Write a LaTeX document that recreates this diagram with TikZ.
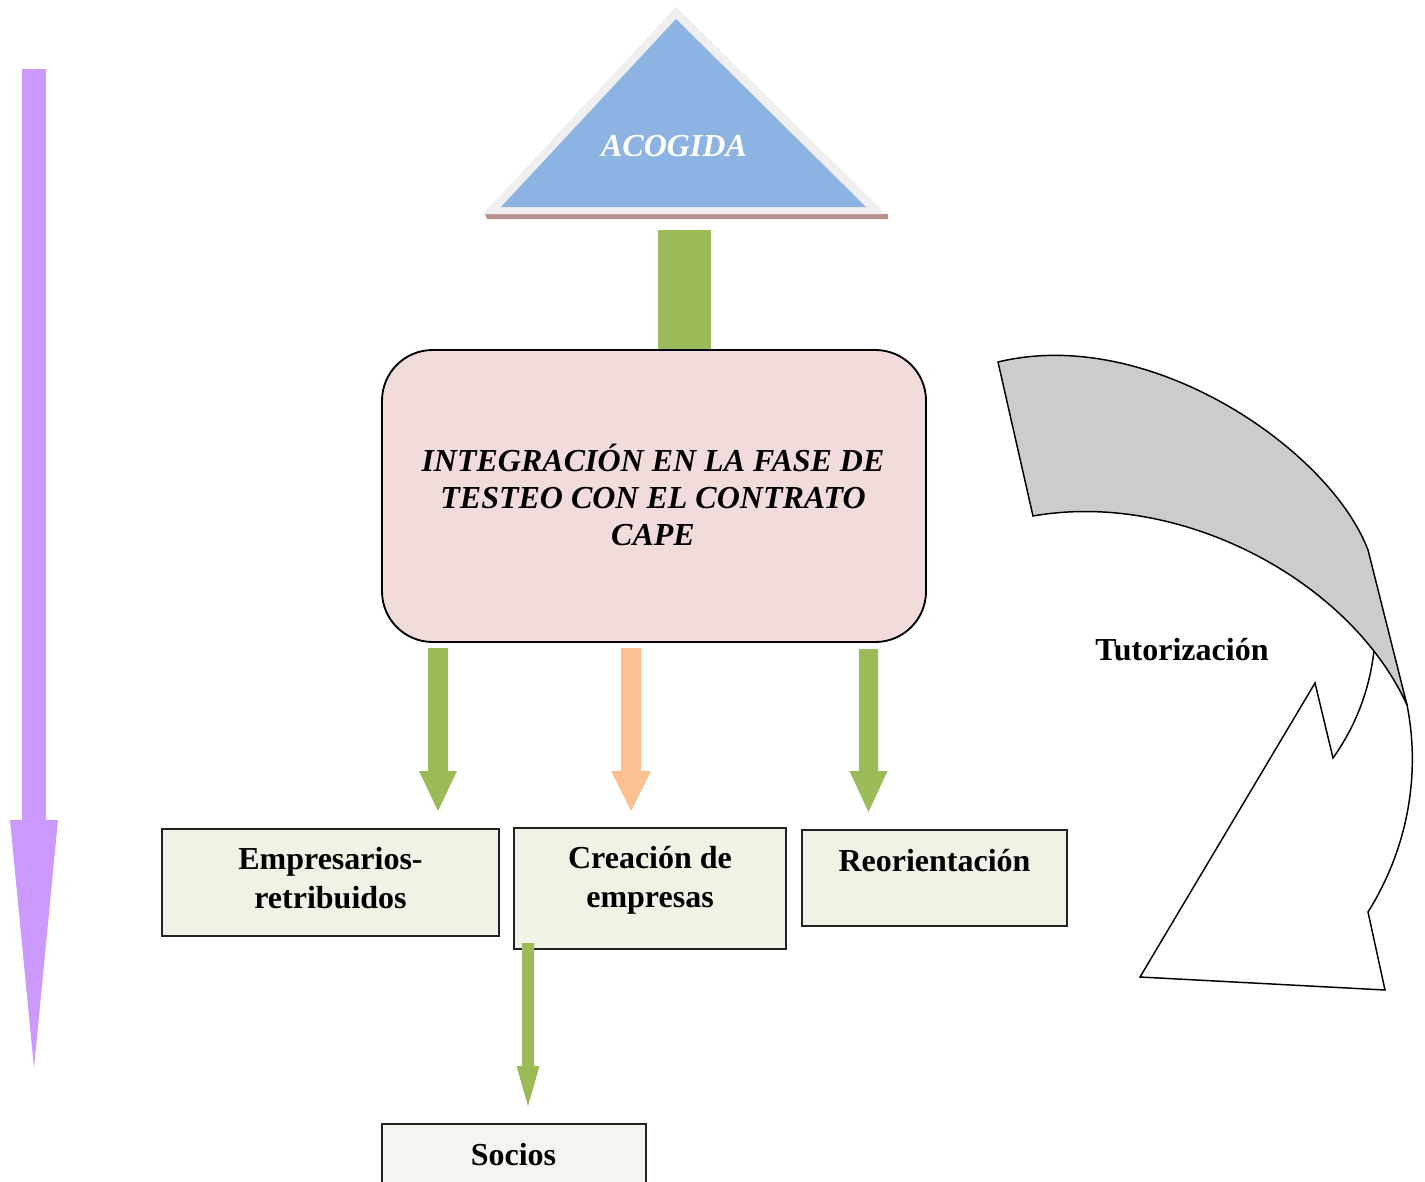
\documentclass[tikz,border=0pt]{standalone}
\usepackage{fontspec}
\setmainfont{Liberation Serif}
\usetikzlibrary{calc,fit}
\definecolor{cpurple}{HTML}{CC99FF}
\definecolor{cgreen}{HTML}{9BBB59}
\definecolor{corange}{HTML}{FAC08F}
\definecolor{cpink}{HTML}{F2DCDB}
\definecolor{cbox}{HTML}{EFF3E6}
\definecolor{cbox2}{HTML}{F3F6EE}
\definecolor{cblue}{HTML}{8DB3E2}
\definecolor{ctriout}{HTML}{EFEFEF}
\definecolor{cshadow}{HTML}{B8918E}
\definecolor{cgray}{HTML}{CCCCCC}
\definecolor{cborder}{HTML}{222222}
% block arrow: #1 colour, #2 start, #3 end (tip), #4 half shaft, #5 half head, #6 head length (px)
\newcommand\blockarrow[6]{%
  \fill[#1] let \p1=(#2), \p2=(#3) in
    (\x1-#4*0.75pt,\y1) -- (\x1+#4*0.75pt,\y1)
    -- (\x2+#4*0.75pt,\y2+#6*0.75pt) -- (\x2+#5*0.75pt,\y2+#6*0.75pt)
    -- (\x2,\y2)
    -- (\x2-#5*0.75pt,\y2+#6*0.75pt) -- (\x2-#4*0.75pt,\y2+#6*0.75pt) -- cycle;}
\begin{document}
\begin{tikzpicture}[x=0.75pt,y=-0.75pt,
  bigfont/.style={font=\fontsize{24}{27.75}\selectfont\bfseries},
  mainbox/.style={draw=black, line width=1.4pt, fill=cpink, rounded corners=38pt, inner sep=0pt},
  obox/.style={draw=cborder, line width=0.9pt, fill=cbox, inner sep=0pt},
  lbl/.style={align=center, inner sep=0pt, font=\fontsize{24}{29.25}\selectfont\bfseries},
  curvedge/.style={draw=black, line width=1.1pt, line join=miter}
]
\clip (0,0) rectangle (1425,1182);
\fill[white] (0,0) rectangle (1425,1182);

% purple arrow
\coordinate (ps) at (34,69);
\coordinate (pe) at (34,1068);
\blockarrow{cpurple}{ps}{pe}{12}{24}{248}

% triangle ACOGIDA
\fill[cshadow] (485,214) -- (888,214) -- (888,219) -- (487,219) -- cycle;
\fill[ctriout] (483,214) -- (676,7) -- (886,214) -- cycle;
\fill[cblue] (501,207) -- (676,19) -- (866,207) -- cycle;
\node[font=\fontsize{24}{27.75}\selectfont\bfseries\itshape, text=white, anchor=base, inner sep=0pt] (acog) at (674,156) {ACOGIDA};

% green bar from triangle to main box
\coordinate (bt) at (684.5,230);
\coordinate (bb) at (684.5,351);
\draw[cgreen, line width=39.75pt] (bt) -- (bb);

% main box
\node[mainbox, fit={(382,350) (926,642)}] (main) {};
\node[font=\fontsize{24}{27.75}\selectfont\bfseries\itshape, align=center, inner sep=0pt] (maintxt) at (653,495) {INTEGRACIÓN EN LA FASE DE\\TESTEO CON EL CONTRATO\\CAPE};

% lower boxes
\node[obox, fit={(162,829) (499,936)}] (emp) {};
\node[obox, fit={(514,828) (786,949)}] (cre) {};
\node[obox, fit={(802,830) (1067,926)}] (reo) {};
\node[obox, fill=cbox2, fit={(382,1124) (646,1200)}] (soc) {};

\node[lbl] (emptxt) at (330.5,878) {Empresarios-\\retribuidos};
\node[lbl] (cretxt) at (650,880) {Creación de\\empresas};
\node[lbl, anchor=base] (reotxt) at (934.5,871) {Reorientación};
\node[lbl, anchor=base] (soctxt) at (513.5,1165) {Socios};

% arrows from main box
\coordinate (a1s) at (438,648);
\coordinate (a1e) at (438,811);
\coordinate (a2s) at (631,648);
\coordinate (a2e) at (631,811);
\coordinate (a3s) at (868.5,649);
\coordinate (a3e) at (868.5,812);
\blockarrow{cgreen}{a1s}{a1e}{10}{19}{40}
\blockarrow{corange}{a2s}{a2e}{10}{20}{40}
\blockarrow{cgreen}{a3s}{a3e}{9.5}{19}{41}

% arrow Creacion -> Socios
\coordinate (a4s) at (528,943);
\coordinate (a4e) at (528,1106);
\blockarrow{cgreen}{a4s}{a4e}{6}{11.5}{40}

% curved arrow (Tutorizacion)
\filldraw[curvedge, fill=white]
  (1375,640) .. controls (1390,665) and (1400,685) .. (1407,705)
  .. controls (1420,770) and (1410,845) .. (1368,912)
  -- (1385,990) -- (1140,977) -- (1315,683) -- (1333,758)
  .. controls (1360,720) and (1372,680) .. (1375,640) -- cycle;
\filldraw[curvedge, fill=cgray]
  (998,362) .. controls (1150,325) and (1330,450) .. (1368,550)
  -- (1407,705)
  .. controls (1350,580) and (1180,490) .. (1033,516) -- cycle;
\node[lbl, anchor=base] (tut) at (1182,660.5) {Tutorización};
\end{tikzpicture}
\end{document}
